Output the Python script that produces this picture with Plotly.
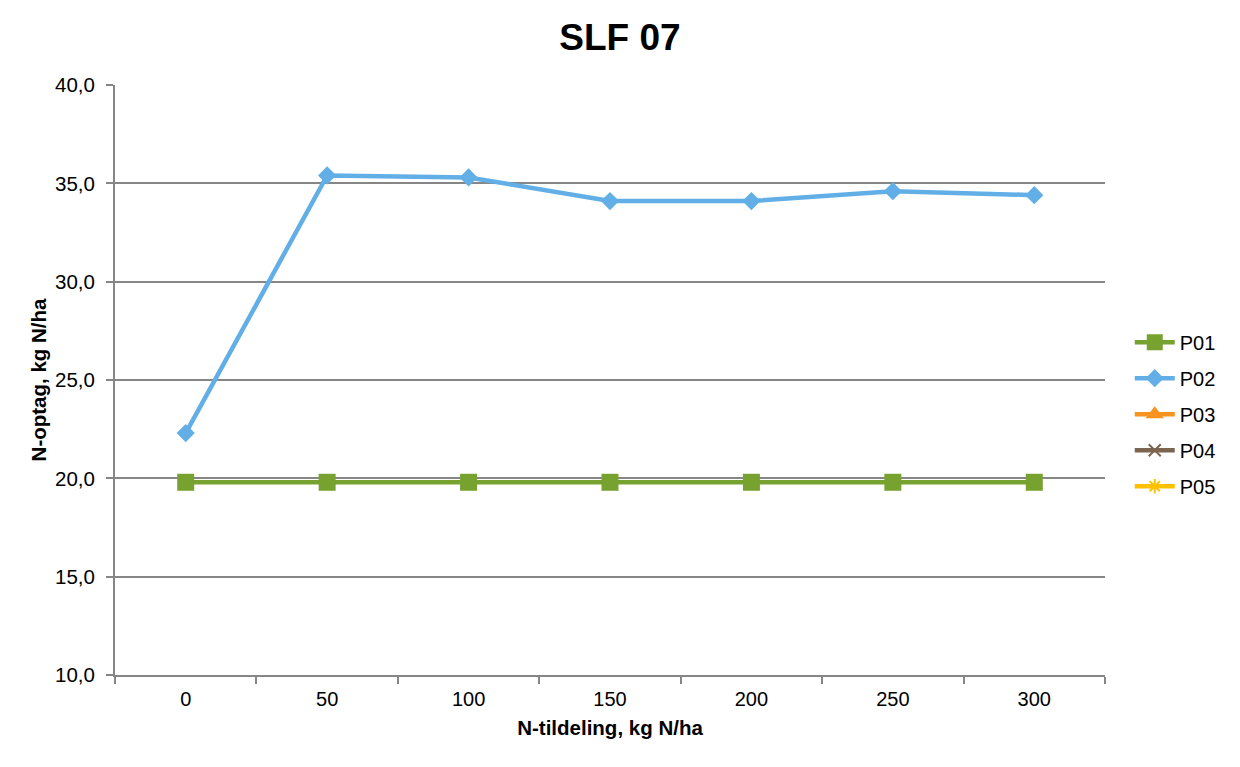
import plotly.graph_objects as go

categories = ["0", "50", "100", "150", "200", "250", "300"]
p01 = [19.8, 19.8, 19.8, 19.8, 19.8, 19.8, 19.8]
p02 = [22.3, 35.4, 35.3, 34.1, 34.1, 34.6, 34.4]
p03 = [None] * 7
p04 = [None] * 7
p05 = [None] * 7

_GRID = "#868686"
_FONT = "Liberation Sans, Arial, sans-serif"

fig = go.Figure()
fig.add_trace(go.Scatter(
    x=categories, y=p01, name="P01", mode="lines+markers", legendgroup="a",
    line=dict(color="#78A22F", width=4.5),
    marker=dict(symbol="square", size=17, color="#78A22F"),
))
fig.add_trace(go.Scatter(
    x=categories, y=p02, name="P02", mode="lines+markers", legendgroup="b",
    line=dict(color="#62AEE6", width=4.5),
    marker=dict(symbol="diamond", size=14, color="#62AEE6"),
))
fig.add_trace(go.Scatter(
    x=categories, y=p03, name="P03", mode="lines+markers", legendgroup="c",
    line=dict(color="#F7931E", width=4.5),
    marker=dict(symbol="triangle-up", size=18, color="#F7931E"),
))
fig.add_trace(go.Scatter(
    x=categories, y=p04, name="P04", mode="lines+markers", legendgroup="d",
    line=dict(color="#7B6550", width=4.5),
    marker=dict(symbol="x-thin", size=12, line=dict(color="#7B6550", width=2)),
))
fig.add_trace(go.Scatter(
    x=categories, y=p05, name="P05", mode="lines+markers", legendgroup="e",
    line=dict(color="#FFC000", width=4.5),
    marker=dict(symbol="asterisk-open", size=12, line=dict(color="#FFC000", width=2)),
))

fig.update_layout(
    width=1240,
    height=767,
    paper_bgcolor="white",
    plot_bgcolor="white",
    separators=", ",
    font=dict(family=_FONT, color="#000000", size=20),
    title=dict(
        text="<b>SLF 07</b>", x=0.4935, xanchor="center", y=0.962, yanchor="middle",
        font=dict(size=37, family=_FONT),
    ),
    xaxis=dict(
        type="category",
        range=[-0.5, 6.5],
        showgrid=False,
        showline=True, linecolor=_GRID, linewidth=2,
        ticks="outside", tickson="boundaries", ticklen=7, tickcolor=_GRID, tickwidth=2,
        ticklabelstandoff=5,
        tickfont=dict(size=20),
        title=dict(text="<b>N-tildeling, kg N/ha</b>", font=dict(size=20.5), standoff=12),
    ),
    yaxis=dict(
        range=[10, 40], dtick=5, tickformat=".1f",
        showgrid=True, gridcolor=_GRID, gridwidth=1.5,
        showline=True, linecolor=_GRID, linewidth=2,
        ticks="outside", ticklen=7, tickcolor=_GRID, tickwidth=2,
        ticklabelstandoff=7,
        tickfont=dict(size=20.5),
        zeroline=False,
        title=dict(text="<b>N-optag, kg N/ha</b>", font=dict(size=20.5), standoff=3),
    ),
    legend=dict(
        x=1.025, xanchor="left", y=0.442, yanchor="middle",
        font=dict(size=20), tracegroupgap=7, itemwidth=40,
    ),
    margin=dict(l=107, r=143, t=77, b=100),
)

fig.write_html("out.html")
